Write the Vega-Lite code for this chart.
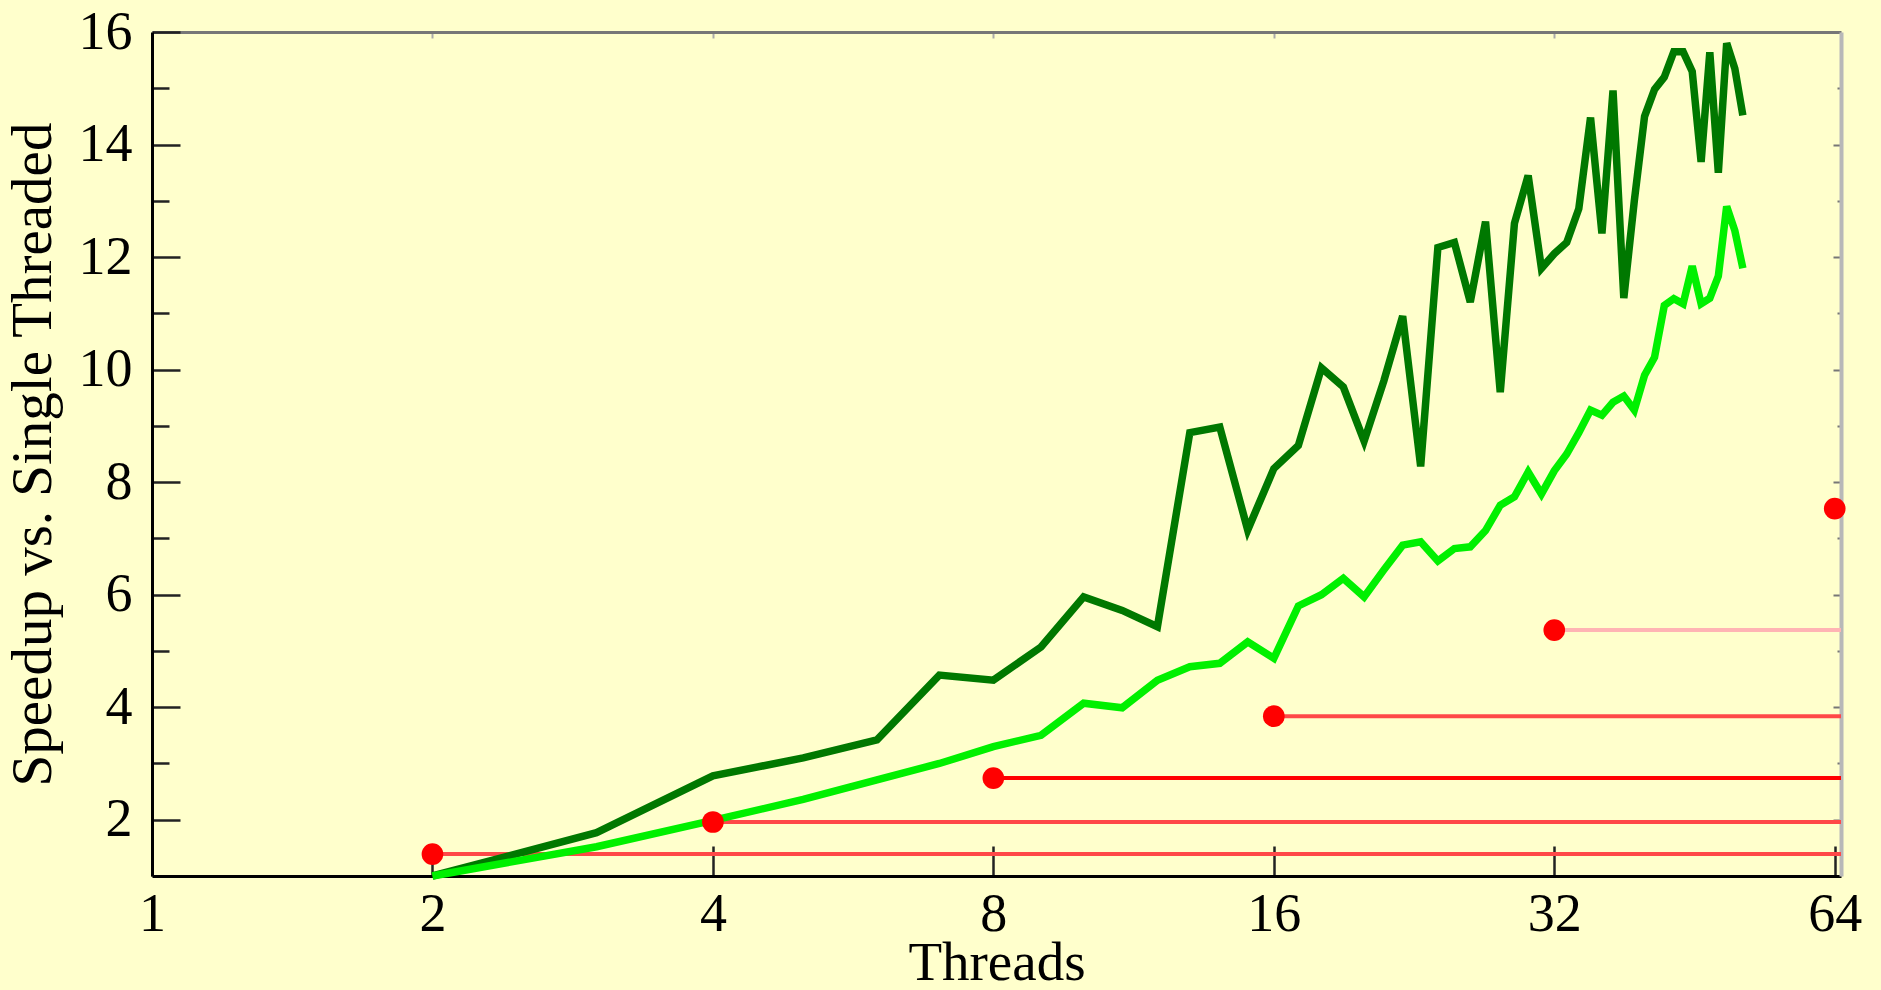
{
  "$schema": "https://vega.github.io/schema/vega-lite/v6.json",
  "width": 1689,
  "height": 844,
  "autosize": {"type": "none"},
  "padding": {"left": 152, "top": 32, "right": 40, "bottom": 114},
  "background": "#ffffcc",
  "config": {"view": {"stroke": null}, "font": "Liberation Serif"},
  "datasets": {
    "speedup": [
      {"threads": 2, "speedup": 1.0, "series": "upper"},
      {"threads": 3, "speedup": 1.77, "series": "upper"},
      {"threads": 4, "speedup": 2.78, "series": "upper"},
      {"threads": 5, "speedup": 3.1, "series": "upper"},
      {"threads": 6, "speedup": 3.42, "series": "upper"},
      {"threads": 7, "speedup": 4.57, "series": "upper"},
      {"threads": 8, "speedup": 4.48, "series": "upper"},
      {"threads": 9, "speedup": 5.07, "series": "upper"},
      {"threads": 10, "speedup": 5.96, "series": "upper"},
      {"threads": 11, "speedup": 5.72, "series": "upper"},
      {"threads": 12, "speedup": 5.43, "series": "upper"},
      {"threads": 13, "speedup": 8.88, "series": "upper"},
      {"threads": 14, "speedup": 8.98, "series": "upper"},
      {"threads": 15, "speedup": 7.15, "series": "upper"},
      {"threads": 16, "speedup": 8.24, "series": "upper"},
      {"threads": 17, "speedup": 8.65, "series": "upper"},
      {"threads": 18, "speedup": 10.03, "series": "upper"},
      {"threads": 19, "speedup": 9.69, "series": "upper"},
      {"threads": 20, "speedup": 8.73, "series": "upper"},
      {"threads": 21, "speedup": 9.8, "series": "upper"},
      {"threads": 22, "speedup": 10.95, "series": "upper"},
      {"threads": 23, "speedup": 8.28, "series": "upper"},
      {"threads": 24, "speedup": 12.17, "series": "upper"},
      {"threads": 25, "speedup": 12.26, "series": "upper"},
      {"threads": 26, "speedup": 11.2, "series": "upper"},
      {"threads": 27, "speedup": 12.63, "series": "upper"},
      {"threads": 28, "speedup": 9.6, "series": "upper"},
      {"threads": 29, "speedup": 12.6, "series": "upper"},
      {"threads": 30, "speedup": 13.45, "series": "upper"},
      {"threads": 31, "speedup": 11.8, "series": "upper"},
      {"threads": 32, "speedup": 12.06, "series": "upper"},
      {"threads": 33, "speedup": 12.26, "series": "upper"},
      {"threads": 34, "speedup": 12.86, "series": "upper"},
      {"threads": 35, "speedup": 14.48, "series": "upper"},
      {"threads": 36, "speedup": 12.42, "series": "upper"},
      {"threads": 37, "speedup": 14.96, "series": "upper"},
      {"threads": 38, "speedup": 11.27, "series": "upper"},
      {"threads": 39, "speedup": 13.0, "series": "upper"},
      {"threads": 40, "speedup": 14.5, "series": "upper"},
      {"threads": 41, "speedup": 14.98, "series": "upper"},
      {"threads": 42, "speedup": 15.2, "series": "upper"},
      {"threads": 43, "speedup": 15.65, "series": "upper"},
      {"threads": 44, "speedup": 15.65, "series": "upper"},
      {"threads": 45, "speedup": 15.3, "series": "upper"},
      {"threads": 46, "speedup": 13.69, "series": "upper"},
      {"threads": 47, "speedup": 15.64, "series": "upper"},
      {"threads": 48, "speedup": 13.5, "series": "upper"},
      {"threads": 49, "speedup": 15.8, "series": "upper"},
      {"threads": 50, "speedup": 15.35, "series": "upper"},
      {"threads": 51, "speedup": 14.52, "series": "upper"},
      {"threads": 2, "speedup": 1.0, "series": "lower"},
      {"threads": 3, "speedup": 1.52, "series": "lower"},
      {"threads": 4, "speedup": 1.99, "series": "lower"},
      {"threads": 5, "speedup": 2.36, "series": "lower"},
      {"threads": 6, "speedup": 2.71, "series": "lower"},
      {"threads": 7, "speedup": 3.0, "series": "lower"},
      {"threads": 8, "speedup": 3.3, "series": "lower"},
      {"threads": 9, "speedup": 3.5, "series": "lower"},
      {"threads": 10, "speedup": 4.07, "series": "lower"},
      {"threads": 11, "speedup": 3.99, "series": "lower"},
      {"threads": 12, "speedup": 4.48, "series": "lower"},
      {"threads": 13, "speedup": 4.72, "series": "lower"},
      {"threads": 14, "speedup": 4.78, "series": "lower"},
      {"threads": 15, "speedup": 5.16, "series": "lower"},
      {"threads": 16, "speedup": 4.87, "series": "lower"},
      {"threads": 17, "speedup": 5.8, "series": "lower"},
      {"threads": 18, "speedup": 6.0, "series": "lower"},
      {"threads": 19, "speedup": 6.29, "series": "lower"},
      {"threads": 20, "speedup": 5.96, "series": "lower"},
      {"threads": 21, "speedup": 6.44, "series": "lower"},
      {"threads": 22, "speedup": 6.88, "series": "lower"},
      {"threads": 23, "speedup": 6.94, "series": "lower"},
      {"threads": 24, "speedup": 6.6, "series": "lower"},
      {"threads": 25, "speedup": 6.82, "series": "lower"},
      {"threads": 26, "speedup": 6.85, "series": "lower"},
      {"threads": 27, "speedup": 7.14, "series": "lower"},
      {"threads": 28, "speedup": 7.59, "series": "lower"},
      {"threads": 29, "speedup": 7.74, "series": "lower"},
      {"threads": 30, "speedup": 8.18, "series": "lower"},
      {"threads": 31, "speedup": 7.79, "series": "lower"},
      {"threads": 32, "speedup": 8.2, "series": "lower"},
      {"threads": 33, "speedup": 8.5, "series": "lower"},
      {"threads": 34, "speedup": 8.88, "series": "lower"},
      {"threads": 35, "speedup": 9.28, "series": "lower"},
      {"threads": 36, "speedup": 9.19, "series": "lower"},
      {"threads": 37, "speedup": 9.42, "series": "lower"},
      {"threads": 38, "speedup": 9.53, "series": "lower"},
      {"threads": 39, "speedup": 9.28, "series": "lower"},
      {"threads": 40, "speedup": 9.9, "series": "lower"},
      {"threads": 41, "speedup": 10.22, "series": "lower"},
      {"threads": 42, "speedup": 11.14, "series": "lower"},
      {"threads": 43, "speedup": 11.26, "series": "lower"},
      {"threads": 44, "speedup": 11.17, "series": "lower"},
      {"threads": 45, "speedup": 11.84, "series": "lower"},
      {"threads": 46, "speedup": 11.17, "series": "lower"},
      {"threads": 47, "speedup": 11.27, "series": "lower"},
      {"threads": 48, "speedup": 11.66, "series": "lower"},
      {"threads": 49, "speedup": 12.9, "series": "lower"},
      {"threads": 50, "speedup": 12.47, "series": "lower"},
      {"threads": 51, "speedup": 11.8, "series": "lower"}
    ],
    "markers": [
      {"threads": 2, "speedup": 1.39},
      {"threads": 4, "speedup": 1.96},
      {"threads": 8, "speedup": 2.74},
      {"threads": 16, "speedup": 3.84},
      {"threads": 32, "speedup": 5.37},
      {"threads": 64, "speedup": 7.53}
    ]
  },
  "layer": [
    {
      "data": {"name": "markers"},
      "mark": {"type": "rule", "strokeWidth": 4},
      "encoding": {
        "x": {
          "field": "threads",
          "type": "quantitative",
          "scale": {"type": "log", "base": 2, "domain": [1, 65], "nice": false},
          "axis": {
            "orient": "bottom",
            "values": [1, 2, 4, 8, 16, 32, 64],
            "format": "d",
            "grid": false,
            "tickSize": -30,
            "tickWidth": 2.5,
            "tickColor": "#222222",
            "domainColor": "#000000",
            "domainWidth": 3,
            "labelFont": "Liberation Serif",
            "labelFontSize": 54,
            "labelColor": "#000000",
            "labelPadding": 41,
            "labelFlush": false,
            "labelOverlap": false,
            "labelBound": false,
            "title": "Threads",
            "titleFont": "Liberation Serif",
            "titleFontSize": 55,
            "titleFontWeight": "normal",
            "titleColor": "#000000",
            "titlePadding": -5
          }
        },
        "x2": {"datum": 65},
        "y": {
          "field": "speedup",
          "type": "quantitative",
          "scale": {"domain": [1, 16], "nice": false, "zero": false},
          "axis": {
            "orient": "left",
            "values": [2, 3, 4, 5, 6, 7, 8, 9, 10, 11, 12, 13, 14, 15, 16],
            "labelExpr": "datum.value % 2 === 0 ? datum.label : ''",
            "grid": false,
            "tickSize": {"condition": {"test": "datum.value % 2 === 0", "value": -28}, "value": -17},
            "tickWidth": 2.5,
            "tickColor": "#222222",
            "domainColor": "#000000",
            "domainWidth": 3,
            "labelFont": "Liberation Serif",
            "labelFontSize": 54,
            "labelColor": "#000000",
            "labelPadding": 48,
            "labelFlush": false,
            "labelOverlap": false,
            "labelBound": false,
            "title": "Speedup vs. Single Threaded",
            "titleFont": "Liberation Serif",
            "titleFontSize": 57,
            "titleFontWeight": "normal",
            "titleColor": "#000000",
            "titlePadding": 16
          }
        },
        "color": {
          "field": "threads",
          "type": "nominal",
          "scale": {"domain": [2, 4, 8, 16, 32, 64], "range": ["#ff4848", "#ff4848", "#ff0000", "#ff4848", "#ffb4b4", "#ff4848"]},
          "legend": null
        }
      }
    },
    {
      "data": {"name": "speedup"},
      "mark": {"type": "line", "strokeWidth": 7.5},
      "encoding": {
        "x": {"field": "threads", "type": "quantitative", "axis": null},
        "y": {"field": "speedup", "type": "quantitative", "axis": null},
        "color": {
          "field": "series",
          "type": "nominal",
          "scale": {"domain": ["upper", "lower"], "range": ["#007800", "#00f000"]},
          "legend": null
        }
      }
    },
    {
      "data": {"name": "markers"},
      "mark": {"type": "circle", "size": 470, "color": "#ff0000", "opacity": 1},
      "encoding": {
        "x": {
          "field": "threads",
          "type": "quantitative",
          "axis": {
            "orient": "top",
            "values": [2, 4, 8, 16, 32],
            "grid": false,
            "labels": false,
            "tickSize": -6,
            "tickWidth": 2,
            "tickColor": "#aaaaaa",
            "domainColor": "#777777",
            "domainWidth": 3,
            "title": null
          }
        },
        "y": {
          "field": "speedup",
          "type": "quantitative",
          "axis": {
            "orient": "right",
            "values": [2, 3, 4, 5, 6, 7, 8, 9, 10, 11, 12, 13, 14, 15],
            "grid": false,
            "labels": false,
            "tickSize": {"condition": {"test": "datum.value % 2 === 0", "value": -8}, "value": -4},
            "tickWidth": 2,
            "tickColor": "#777777",
            "domainColor": "#b8b8b8",
            "domainWidth": 4,
            "title": null
          }
        }
      }
    }
  ],
  "resolve": {
    "scale": {"color": "independent"},
    "axis": {"x": "independent", "y": "independent"}
  }
}
